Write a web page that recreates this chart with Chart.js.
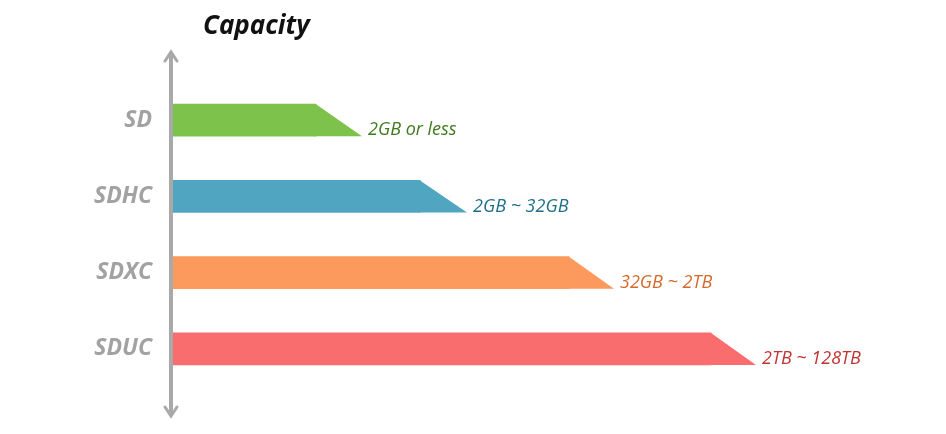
<!DOCTYPE html>
<html><head><meta charset="utf-8">
<script src="https://cdn.jsdelivr.net/npm/chart.js@4"></script>
<style>html,body{margin:0;padding:0;background:#fff}#w{width:946px;height:434px}</style>
</head><body><div id="w"><canvas id="c"></canvas></div>
<script>
const categories = ['SD','SDHC','SDXC','SDUC'];
const barTop = [143, 247, 396, 538];
const barBottom = [189, 294, 441, 583];
const valueLabels = ['2GB or less','2GB ~ 32GB','32GB ~ 2TB','2TB ~ 128TB'];
const barColors = ['#7dc24b','#50a5c1','#fc9a5e','#fa6d6e'];
const textColors = ['#3f7a1f','#1f6f87','#d4692b','#c23434'];

const deco = {
  id:'deco',
  afterDatasetsDraw(chart){
    const ctx = chart.ctx, xs = chart.scales.x, ys = chart.scales.y;
    const meta = chart.getDatasetMeta(0);
    ctx.save();
    meta.data.forEach((bar,i)=>{
      const h = bar.height, top = bar.y - h/2, bot = bar.y + h/2;
      const xt = xs.getPixelForValue(barTop[i]), xb = xs.getPixelForValue(barBottom[i]);
      ctx.fillStyle = barColors[i];
      ctx.beginPath(); ctx.moveTo(xt-1,top); ctx.lineTo(xt,top); ctx.lineTo(xb,bot); ctx.lineTo(xt-1,bot); ctx.closePath(); ctx.fill();
      ctx.fillStyle = textColors[i];
      ctx.font = 'italic 18px "Open Sans"';
      ctx.textAlign = 'left'; ctx.textBaseline = 'middle';
      ctx.fillText(valueLabels[i], xb + 6, bot - 6);
      ctx.fillStyle = '#a2a2a2';
      ctx.font = 'bold italic 23px "Open Sans"';
      ctx.textAlign = 'right';
      ctx.fillText(categories[i], 152, ys.getPixelForValue(i));
    });
    // axis
    const ax = 171;
    ctx.strokeStyle = '#a9a9a9'; ctx.lineWidth = 4; ctx.lineCap='round';
    ctx.beginPath(); ctx.moveTo(ax,54); ctx.lineTo(ax,414); ctx.stroke();
    ctx.lineWidth = 3;
    ctx.beginPath(); ctx.moveTo(ax-6,61); ctx.lineTo(ax,52); ctx.lineTo(ax+6,61); ctx.stroke();
    ctx.beginPath(); ctx.moveTo(ax-6,407); ctx.lineTo(ax,416); ctx.lineTo(ax+6,407); ctx.stroke();
    // title
    ctx.fillStyle = '#111'; ctx.font = 'bold italic 26px "Open Sans"';
    ctx.textAlign='left'; ctx.textBaseline='middle';
    ctx.fillText('Capacity', 203, 27);
    ctx.restore();
  }
};

new Chart(document.getElementById('c'), {
  type:'bar',
  data:{labels:categories, datasets:[{data:barTop, backgroundColor:barColors, barThickness:32, borderWidth:0}]},
  options:{
    indexAxis:'y', responsive:true, maintainAspectRatio:false, animation:false,
    layout:{padding:{left:173,top:82,bottom:47,right:0}},
    plugins:{legend:{display:false},tooltip:{enabled:false}},
    scales:{
      x:{display:false,min:0,max:773},
      y:{display:false}
    }
  },
  plugins:[deco]
});
</script></body></html>
